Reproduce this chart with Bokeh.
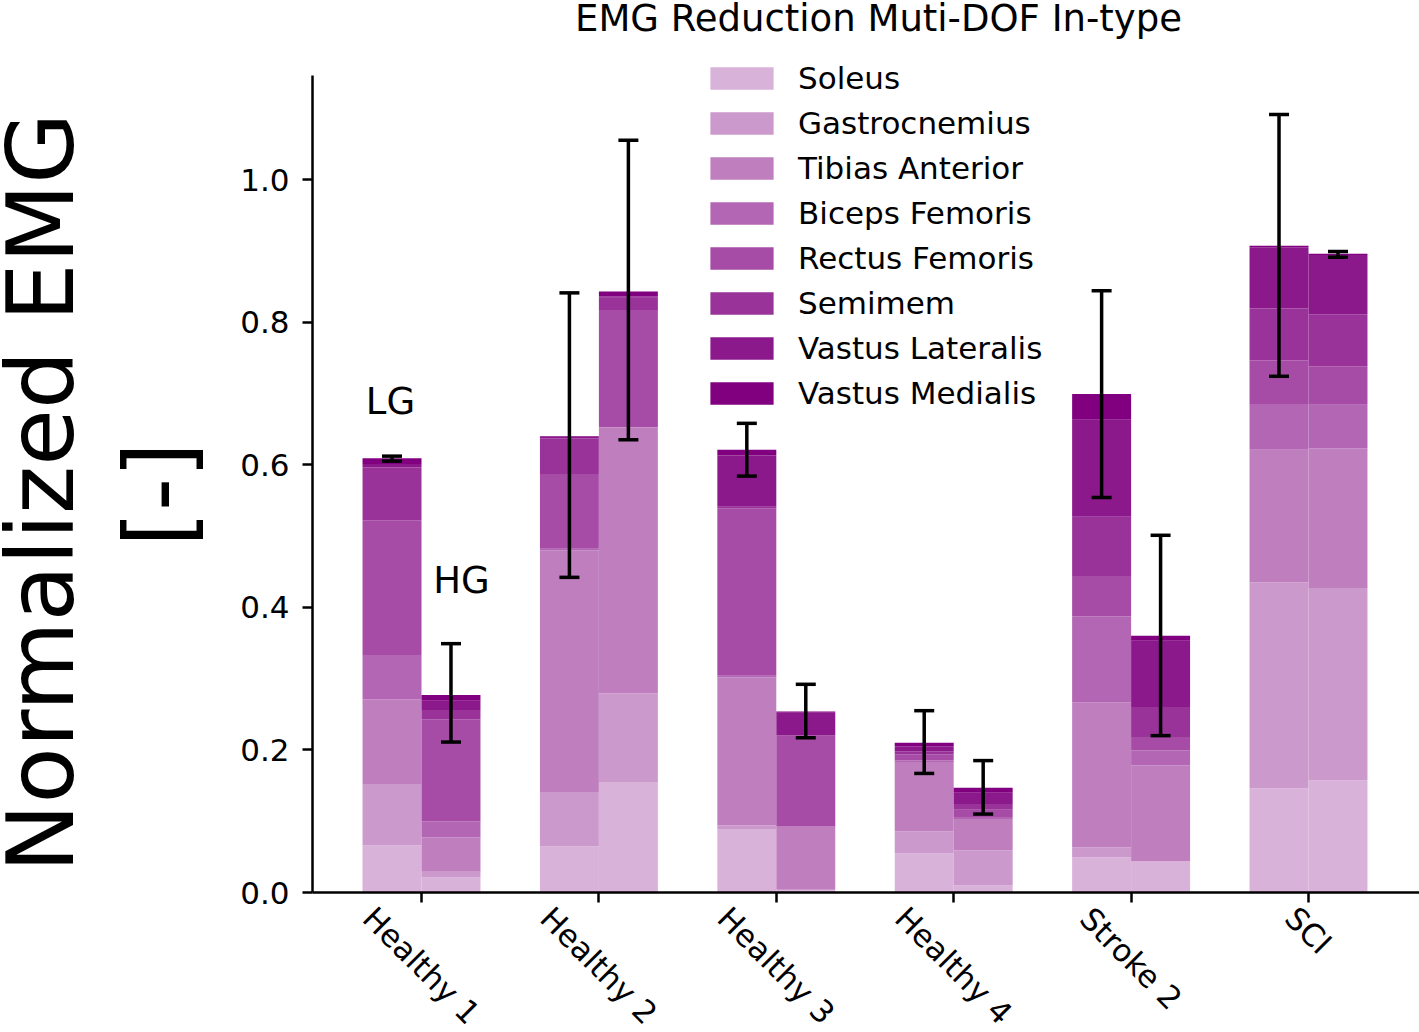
import math
from bokeh.plotting import figure
from bokeh.models import (Range1d, FixedTicker, Whisker, TeeHead, ColumnDataSource,
                          Label, LinearAxis, CustomJSTickFormatter)
from bokeh.embed import file_html
from bokeh.resources import INLINE

# ---------------- data ----------------
groups = ["Healthy 1", "Healthy 2", "Healthy 3", "Healthy 4", "Stroke 2", "SCI"]
muscles = ["Soleus", "Gastrocnemius", "Tibias Anterior", "Biceps Femoris",
           "Rectus Femoris", "Semimem", "Vastus Lateralis", "Vastus Medialis"]

# LG (left bar of each group)
lg_soleus = [0.066, 0.065, 0.089, 0.055, 0.049, 0.146]
lg_gastro = [0.086, 0.075, 0.005, 0.031, 0.014, 0.289]
lg_tibias = [0.119, 0.340, 0.208, 0.097, 0.204, 0.186]
lg_biceps = [0.062, 0.002, 0.002, 0.002, 0.120, 0.064]
lg_rectus = [0.189, 0.105, 0.235, 0.009, 0.057, 0.061]
lg_semimem = [0.074, 0.050, 0.002, 0.004, 0.083, 0.073]
lg_vlat = [0.005, 0.002, 0.072, 0.007, 0.136, 0.086]
lg_vmed = [0.008, 0.001, 0.008, 0.005, 0.036, 0.002]
lg_err_upper = [0.612, 0.841, 0.658, 0.255, 0.844, 1.091]
lg_err_lower = [0.605, 0.442, 0.584, 0.167, 0.554, 0.724]

# HG (right bar of each group)
hg_soleus = [0.021, 0.155, 0.003, 0.010, 0.043, 0.157]
hg_gastro = [0.008, 0.124, 0.002, 0.049, 0.001, 0.270]
hg_tibias = [0.048, 0.373, 0.087, 0.044, 0.134, 0.196]
hg_biceps = [0.023, 0.001, 0.001, 0.003, 0.021, 0.061]
hg_rectus = [0.143, 0.164, 0.127, 0.010, 0.019, 0.054]
hg_semimem = [0.013, 0.017, 0.001, 0.008, 0.042, 0.073]
hg_vlat = [0.013, 0.002, 0.031, 0.016, 0.093, 0.083]
hg_vmed = [0.008, 0.007, 0.002, 0.007, 0.007, 0.002]
hg_err_upper = [0.349, 1.055, 0.292, 0.185, 0.501, 0.899]
hg_err_lower = [0.211, 0.635, 0.217, 0.110, 0.220, 0.891]

y_ticks = [0.0, 0.2, 0.4, 0.6, 0.8, 1.0]
y_tick_labels = ["0.0", "0.2", "0.4", "0.6", "0.8", "1.0"]

# purple at increasing opacity over white
colors = ["#d9b2d9", "#cc99cc", "#bf7fbf", "#b366b3",
          "#a64ca6", "#993399", "#8c198c", "#800080"]

FONT = "DejaVu Sans"
W, H = 1419, 1032
BAR_W = 0.3324
OFF = BAR_W / 2

# the frame covers the whole canvas; axes are drawn at fixed locations
X0_PX, SX = 421.0, 177.4     # canvas x of group 0, pixels per group
Y0_PX, SY = 892.0, 713.0     # canvas y of value 0, pixels per unit
x_range = Range1d(-X0_PX / SX, (W - X0_PX) / SX)
y_range = Range1d(-(H - Y0_PX) / SY, Y0_PX / SY)
X_AXIS_LEFT = (312 - X0_PX) / SX
Y_AXIS_TOP = (Y0_PX - 75) / SY

p = figure(width=W, height=H, x_range=x_range, y_range=y_range,
           output_backend="svg", toolbar_location=None,
           x_axis_location=None, y_axis_location=None,
           min_border_left=0, min_border_right=0, min_border_top=0, min_border_bottom=0)
p.outline_line_color = None
p.xgrid.visible = False
p.ygrid.visible = False
p.background_fill_color = "white"

keys = ["soleus", "gastro", "tibias", "biceps", "rectus", "semimem", "vlat", "vmed"]
idx = list(range(len(groups)))

src_lg = ColumnDataSource(dict(x=[i - OFF for i in idx], soleus=lg_soleus, gastro=lg_gastro,
                               tibias=lg_tibias, biceps=lg_biceps, rectus=lg_rectus,
                               semimem=lg_semimem, vlat=lg_vlat, vmed=lg_vmed))
src_hg = ColumnDataSource(dict(x=[i + OFF for i in idx], soleus=hg_soleus, gastro=hg_gastro,
                               tibias=hg_tibias, biceps=hg_biceps, rectus=hg_rectus,
                               semimem=hg_semimem, vlat=hg_vlat, vmed=hg_vmed))

p.vbar_stack(keys, x="x", width=BAR_W, source=src_lg, fill_color=colors,
             line_color=None, legend_label=muscles)
p.vbar_stack(keys, x="x", width=BAR_W, source=src_hg, fill_color=colors, line_color=None)

for xs, up, lo in [([i - OFF for i in idx], lg_err_upper, lg_err_lower),
                   ([i + OFF for i in idx], hg_err_upper, hg_err_lower)]:
    es = ColumnDataSource(dict(base=xs, upper=up, lower=lo))
    w = Whisker(source=es, base="base", upper="upper", lower="lower",
                line_width=3.5, line_color="black", level="overlay",
                upper_head=TeeHead(size=20, line_width=3.5, line_color="black"),
                lower_head=TeeHead(size=20, line_width=3.5, line_color="black"))
    p.add_layout(w)

# axes
yaxis = LinearAxis(fixed_location=X_AXIS_LEFT, bounds=(0, Y_AXIS_TOP),
                   ticker=FixedTicker(ticks=y_ticks),
                   major_label_overrides={t: l for t, l in zip(y_ticks, y_tick_labels)})
xaxis = LinearAxis(fixed_location=0, bounds=(X_AXIS_LEFT, x_range.end),
                   ticker=FixedTicker(ticks=idx),
                   formatter=CustomJSTickFormatter(code="return ''"))
for ax in (xaxis, yaxis):
    ax.axis_line_width = 2.5
    ax.axis_line_color = "black"
    ax.major_tick_line_width = 2.5
    ax.major_tick_line_color = "black"
    ax.major_tick_out = 10
    ax.major_tick_in = 0
    ax.minor_tick_line_color = None
    ax.major_label_text_font = FONT
    ax.major_label_text_font_size = "31px"
    ax.major_label_text_color = "black"
yaxis.major_label_standoff = 13
p.add_layout(yaxis, "left")
p.add_layout(xaxis, "below")


def sy(cy):
    # canvas y (from top) -> screen units (from bottom)
    return H - cy


# rotated category labels (centered under each tick, like matplotlib ha='center')
adv = {"H": .752, "e": .615, "a": .613, "l": .278, "t": .392, "h": .634, "y": .592,
       " ": .318, "1": .636, "2": .636, "3": .636, "4": .636, "S": .635, "r": .411,
       "o": .612, "k": .579, "C": .698, "I": .295}
fs = 31
for i, g in enumerate(groups):
    wpx = sum(adv.get(c, 0.6) for c in g) * fs
    hpx = fs * 1.0
    cy = 901 + (wpx + hpx) / (2 * math.sqrt(2))
    p.add_layout(Label(x=i, y=sy(cy), x_units="data", y_units="screen",
                       text=g, angle=-math.pi / 4, text_align="center", text_baseline="middle",
                       text_font=FONT, text_font_size=f"{fs}px", text_color="black"))

# LG / HG annotations
p.add_layout(Label(x=-0.175, y=0.689, text="LG", text_align="center", text_baseline="middle",
                   text_font=FONT, text_font_size="37px", text_color="black"))
p.add_layout(Label(x=0.225, y=0.438, text="HG", text_align="center", text_baseline="middle",
                   text_font=FONT, text_font_size="37px", text_color="black"))

# title
p.add_layout(Label(x=878, y=sy(18), x_units="screen", y_units="screen",
                   text="EMG Reduction Muti-DOF In-type", text_align="center",
                   text_baseline="middle", text_font=FONT, text_font_size="37px",
                   text_color="black"))

# y axis label (two lines)
p.add_layout(Label(x=41, y=sy(492), x_units="screen", y_units="screen",
                   text="Normalized EMG", angle=math.pi / 2, text_align="center",
                   text_baseline="alphabetic", text_font=FONT, text_font_size="92px",
                   text_color="black"))
p.add_layout(Label(x=159, y=sy(494), x_units="screen", y_units="screen", text="[-]",
                   angle=math.pi / 2, text_align="center", text_baseline="alphabetic",
                   text_font=FONT, text_font_size="92px", text_color="black"))

# legend (bokeh insets area glyphs by 10% on each side)
lg = p.legend[0]
lg.location = (702, 621)
lg.label_text_font = FONT
lg.label_text_font_size = "31px"
lg.label_text_color = "black"
lg.glyph_width = 79
lg.glyph_height = 28
lg.label_height = 36
lg.spacing = 9
lg.label_standoff = 17
lg.padding = 0
lg.margin = 0
lg.border_line_color = None
lg.background_fill_alpha = 0

open("out.html", "w").write(file_html(p, INLINE))
